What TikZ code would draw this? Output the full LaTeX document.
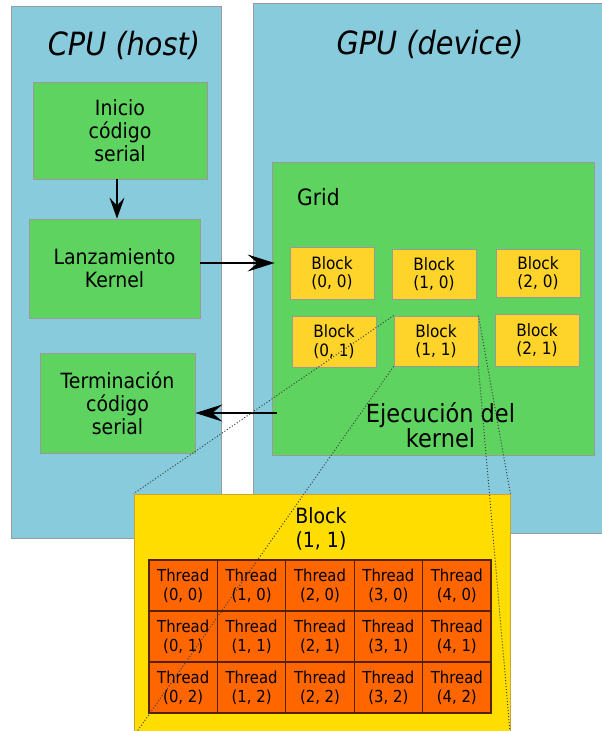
\documentclass[tikz,border=0pt]{standalone}
\usepackage{fontspec}
\setmainfont{DejaVu Sans}[FakeStretch=0.9]
\usetikzlibrary{arrows.meta,calc}
\definecolor{panelblue}{HTML}{87CBDD}
\definecolor{boxgreen}{HTML}{5ED35F}
\definecolor{blockyel}{HTML}{FFD42A}
\definecolor{bigyel}{HTML}{FFDD00}
\definecolor{bigedge}{HTML}{C9A43A}
\definecolor{threadorg}{HTML}{FF6600}
\definecolor{threadedge}{HTML}{552200}
\definecolor{edgegray}{HTML}{9A9A9A}
\tikzset{
  panel/.style={draw=edgegray, line width=0.8pt, fill=panelblue, inner sep=0pt},
  stagebox/.style={draw=edgegray, line width=0.8pt, fill=boxgreen, inner sep=0pt, align=center,
    font=\fontsize{21}{23}\selectfont},
  blockbox/.style={draw=edgegray, line width=0.8pt, fill=blockyel, inner sep=0pt, align=center,
    minimum width=84pt, font=\fontsize{17}{18.5}\selectfont},
  threadbox/.style={draw=threadedge, line width=1.1pt, fill=threadorg, inner sep=0pt, align=center,
    minimum width=68.4pt, minimum height=51pt, font=\fontsize{16.5}{19}\selectfont},
  titletext/.style={inner sep=0pt, font=\fontsize{32}{36}\selectfont\itshape},
  plaintext/.style={inner sep=0pt, align=center},
  arr/.style={line width=1.6pt, -{Stealth[length=27pt,width=17pt,inset=10pt]}},
  darr/.style={line width=1.6pt, -{Stealth[length=21pt,width=15pt,inset=8pt]}},
  lens/.style={draw=black!75, line width=1pt, dash pattern=on 1pt off 2pt}
}
\begin{document}
\begin{tikzpicture}[x=1pt,y=-1pt]
\useasboundingbox (0,0) rectangle (602,731);
% panels
\node[panel, minimum width=210pt, minimum height=532pt] (cpu) at (116,272) {};
\node[panel, minimum width=352pt, minimum height=530pt] (gpu) at (429,268) {};
\node[titletext] (cputitle) at (124,45) {CPU (host)};
\node[titletext] (gputitle) at (430,44) {GPU (device)};
% CPU stages
\node[stagebox, minimum width=174pt, minimum height=97pt] (inicio) at (120,130.5) {Inicio\\código\\serial};
\node[stagebox, minimum width=171pt, minimum height=99pt] (lanz) at (114.5,268.5) {Lanzamiento\\Kernel};
\node[stagebox, minimum width=155pt, minimum height=100pt] (term) at (117.5,403) {Terminación\\código\\serial};
% grid
\node[stagebox, minimum width=322pt, minimum height=293pt] (grid) at (433,308.5) {};
\node[plaintext, anchor=west, font=\fontsize{22.5}{24}\selectfont] (gridlabel) at (297,197) {Grid};
\node[blockbox, minimum height=52pt] (b00) at (332,273) {Block\\(0, 0)};
\node[blockbox, minimum height=50pt] (b10) at (434,274) {Block\\(1, 0)};
\node[blockbox, minimum height=48pt] (b20) at (538,273) {Block\\(2, 0)};
\node[blockbox, minimum height=51pt] (b01) at (334,341.5) {Block\\(0, 1)};
\node[blockbox, minimum height=50pt] (b11) at (436,341) {Block\\(1, 1)};
\node[blockbox, minimum height=52pt] (b21) at (537,340) {Block\\(2, 1)};
\node[plaintext, font=\fontsize{25}{24}\selectfont] (ejec) at (440.5,425) {Ejecución del\\kernel};
% arrows
\draw[darr] ([xshift=-3pt]inicio.south) coordinate (i1) -- (i1 |- lanz.north);
\path ([yshift=5.5pt]lanz.east) coordinate (l1);
\draw[arr] (l1) -- ([xshift=3pt]l1 -| grid.west);
\path ([yshift=-10pt]term.east) coordinate (t1);
\coordinate (g1) at ([xshift=5pt]grid.west);
\draw[arr] (g1 |- t1) -- (t1);
% zoomed block
\node[draw=bigedge, line width=0.8pt, fill=bigyel, inner sep=0pt, minimum width=376pt, minimum height=242pt] (big) at (322,615) {};
\node[plaintext, font=\fontsize{21}{24}\selectfont] (biglabel) at (321,529) {Block\\(1, 1)};
\foreach \c in {0,...,4} {
  \foreach \r in {0,1,2} {
    \node[threadbox] (th\c\r) at ({149+34.2+68.4*\c},{560+25.5+51*\r}) {Thread\\(\c, \r)};
  }
}
% lens lines
\draw[lens] (b11.north west) -- (big.north west);
\draw[lens] (b11.south west) -- (big.south west);
\draw[lens] (b11.north east) -- (big.north east);
\draw[lens] (b11.south east) -- (big.south east);
\end{tikzpicture}
\end{document}
